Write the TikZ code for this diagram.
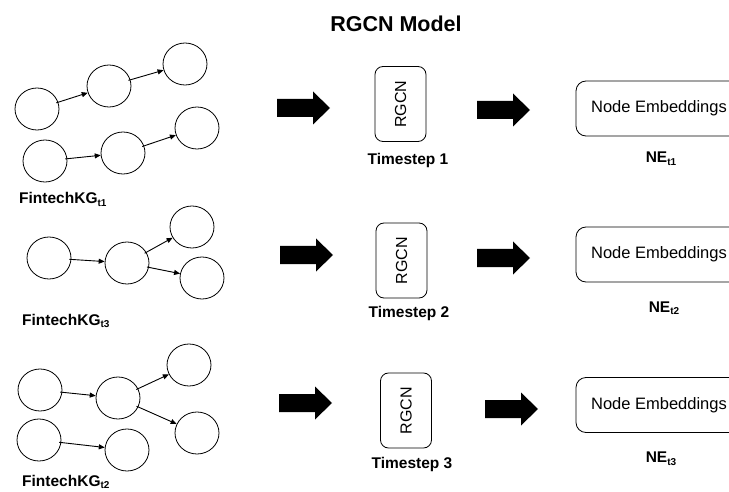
\documentclass[tikz,border=0pt]{standalone}
\usepackage{fontspec}
\setmainfont{Liberation Sans}
\usetikzlibrary{arrows.meta,shapes.geometric}
\newcommand\kgsub[1]{\raisebox{-0.35ex}{\fontsize{10}{10}\selectfont #1}}
\newcommand\nesub[1]{\raisebox{-0.35ex}{\fontsize{10}{10}\selectfont #1}}
\begin{document}
\begin{tikzpicture}[x=1pt,y=-1pt,
  kg/.style={ellipse,draw,line width=0.8pt,minimum width=44pt,minimum height=42pt,inner sep=0pt},
  kgedge/.style={-{Triangle[length=6pt,width=5pt]},line width=0.9pt,shorten <=-2pt},
  rgcn/.style={draw,rounded corners=8pt,line width=0.8pt,minimum width=51pt,minimum height=75pt,inner sep=0pt,
    font=\fontsize{16}{18}\selectfont},
  nebox/.style={draw,rounded corners=10pt,line width=0.8pt,minimum width=166pt,minimum height=55pt,inner sep=0pt,
    font=\fontsize{16.5}{18}\selectfont},
  kglabel/.style={anchor=base west,inner sep=0pt,font=\bfseries\fontsize{15.5}{18}\selectfont},
  tslabel/.style={anchor=base,inner sep=0pt,font=\bfseries\fontsize{15.5}{18}\selectfont},
  nelabel/.style={anchor=base,inner sep=0pt,font=\bfseries\fontsize{15.5}{18}\selectfont},
  blockarrow/.pic={\fill[black] (0,-9) -- (36,-9) -- (36,-16.5) -- (53,0) -- (36,16.5) -- (36,9) -- (0,9) -- cycle;}
]
\useasboundingbox (0,0) rectangle (729,492);
\clip (0,0) rectangle (729,492);

% title
\node[anchor=base,inner sep=0pt,font=\bfseries\fontsize{21.5}{24}\selectfont] (title) at (396,32) {RGCN Model};

% ---- row 1 graph
\node[kg] (a) at (37,109) {};
\node[kg] (b) at (109,86) {};
\node[kg] (c) at (185,64) {};
\node[kg] (d) at (45,161) {};
\node[kg] (e) at (123,153) {};
\node[kg] (f) at (197,128) {};
\draw[kgedge] (a) -- (b);
\draw[kgedge] (b) -- (c);
\draw[kgedge] (d) -- (e);
\draw[kgedge] (e) -- (f);
\node[kglabel] (kg1) at (19,203.5) {FintechKG\kgsub{t1}};

% ---- row 2 graph
\node[kg] (g) at (49,258) {};
\node[kg] (h) at (127,263) {};
\node[kg] (i) at (192,227) {};
\node[kg] (j) at (202,278) {};
\draw[kgedge] (g) -- (h);
\draw[kgedge] (h) -- (i);
\draw[kgedge] (h) -- (j);
\node[kglabel] (kg3) at (22,325) {FintechKG\kgsub{t3}};

% ---- row 3 graph
\node[kg] (k) at (40,390) {};
\node[kg] (l) at (118,398) {};
\node[kg] (m) at (189,365) {};
\node[kg] (n) at (39,440) {};
\node[kg] (o) at (127,450) {};
\node[kg] (p) at (197,433) {};
\draw[kgedge] (k) -- (l);
\draw[kgedge] (l) -- (m);
\draw[kgedge] (l) -- (p);
\draw[kgedge] (n) -- (o);
\node[kglabel] (kg2) at (22,486) {FintechKG\kgsub{t2}};

% ---- block arrows
\pic at (277,108) {blockarrow};
\pic at (477,110) {blockarrow};
\pic at (280,255) {blockarrow};
\pic at (477,258) {blockarrow};
\pic at (279,403) {blockarrow};
\pic at (485,409) {blockarrow};

% ---- RGCN boxes
\node[rgcn] (r1) at (400.5,104) {\rotatebox{90}{RGCN}};
\node[rgcn] (r2) at (401.5,260.5) {\rotatebox{90}{RGCN}};
\node[rgcn] (r3) at (406,410.5) {\rotatebox{90}{RGCN}};
\node[tslabel] (t1) at (408,165) {Timestep 1};
\node[tslabel] (t2) at (409,317) {Timestep 2};
\node[tslabel] (t3) at (412,468) {Timestep 3};

% ---- Node embedding boxes
\node[nebox] (ne1) at (659,108.5) {Node Embeddings};
\node[nebox] (ne2) at (659,254.5) {Node Embeddings};
\node[nebox] (ne3) at (659,405) {Node Embeddings};
\node[nelabel] (n1) at (661,162.5) {NE\nesub{t1}};
\node[nelabel] (n2) at (664,312) {NE\nesub{t2}};
\node[nelabel] (n3) at (661,462.5) {NE\nesub{t3}};
\end{tikzpicture}
\end{document}
